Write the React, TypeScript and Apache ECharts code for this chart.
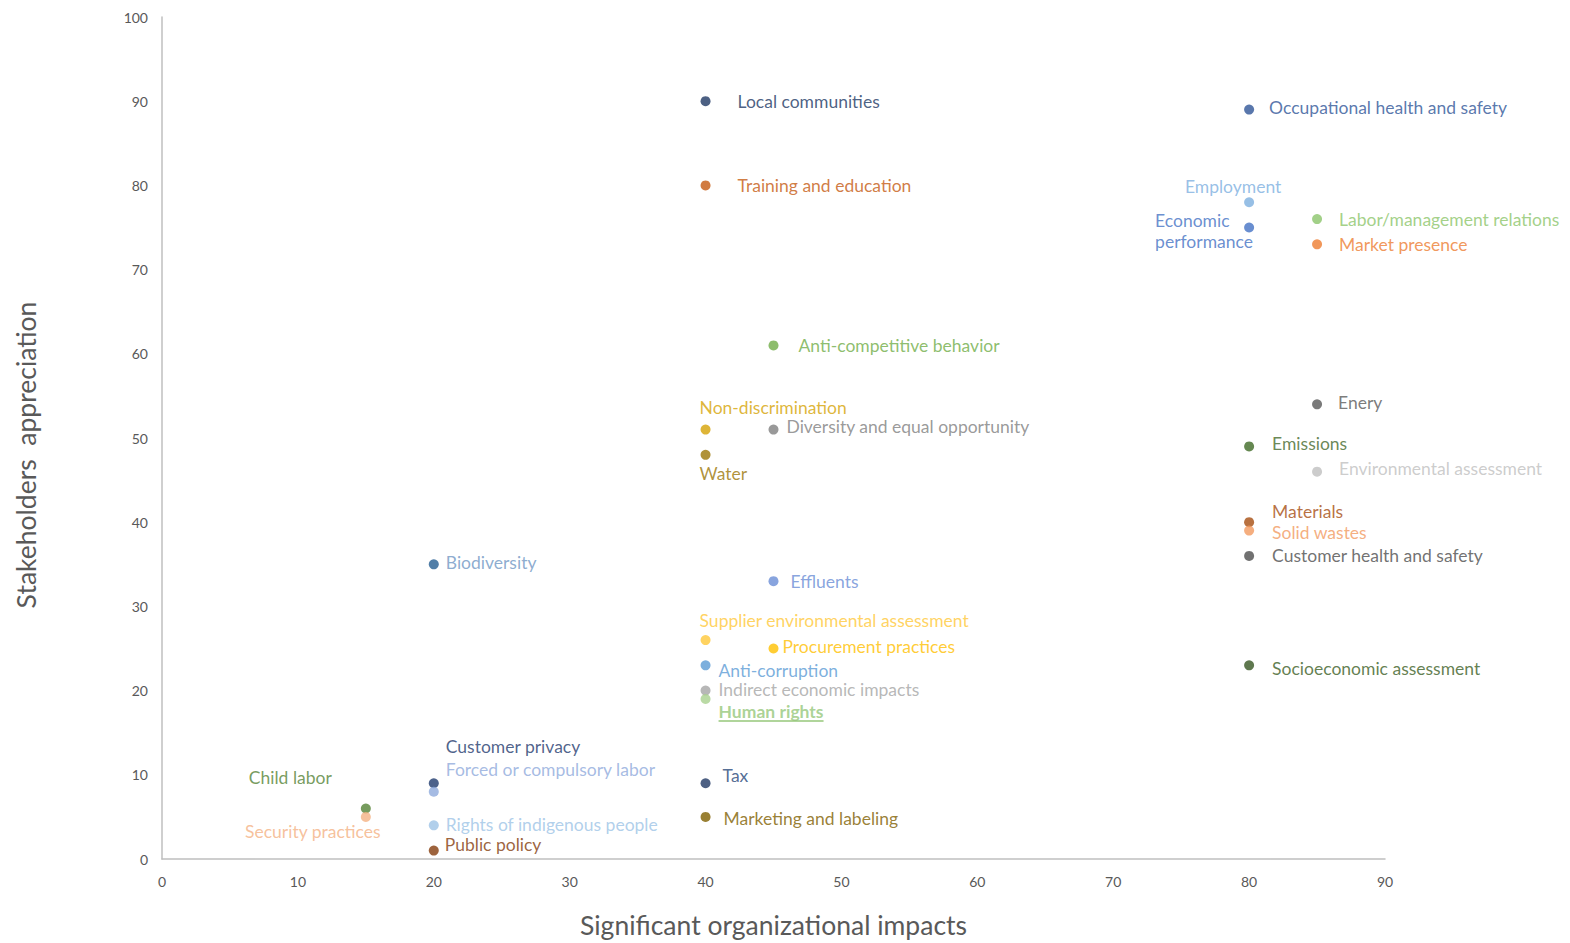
import React, { useEffect, useRef } from "react";
import * as echarts from "echarts";

const topics = [
  "Local communities", "Training and education", "Occupational health and safety", "Employment",
  "Economic\nperformance", "Labor/management relations", "Market presence", "Anti-competitive behavior",
  "Non-discrimination", "Diversity and equal opportunity", "Water", "Enery", "Emissions",
  "Environmental assessment", "Materials", "Solid wastes", "Customer health and safety", "Biodiversity",
  "Effluents", "Supplier environmental assessment", "Procurement practices", "Anti-corruption",
  "Indirect economic impacts", "Human rights", "Socioeconomic assessment", "Customer privacy",
  "Forced or compulsory labor", "Tax", "Child labor", "Security practices", "Rights of indigenous people",
  "Marketing and labeling", "Public policy",
];
const impacts = [40, 40, 80, 80, 80, 85, 85, 45, 40, 45, 40, 85, 80, 85, 80, 80, 80, 20, 45, 40, 45, 40, 40, 40, 80, 20, 20, 40, 15, 15, 20, 40, 20];
const appreciation = [90, 80, 89, 78, 75, 76, 73, 61, 51, 51, 48, 54, 49, 46, 40, 39, 36, 35, 33, 26, 25, 23, 20, 19, 23, 9, 8, 9, 6, 5, 4, 5, 1];
const xTicks = [0, 10, 20, 30, 40, 50, 60, 70, 80, 90];
const yTicks = [0, 10, 20, 30, 40, 50, 60, 70, 80, 90, 100];

// styles
const dotColors = [
  "#1F3864", "#C55A11", "#2F5597", "#7DAFDF", "#4472C4", "#8BC46A", "#ED7D31", "#70AD47",
  "#D6A305", "#808080", "#9C7708", "#595959", "#3F6A26", "#BFBFBF", "#A64D10", "#F29A5F",
  "#4D4D4D", "#255E91", "#6A8DD6", "#FFC839", "#FFC000", "#5B9BD5", "#A5A5A5", "#A9D18E",
  "#375623", "#1F3B6E", "#8FAADC", "#203864", "#548235", "#F4B183", "#9DC3E6", "#7F6000", "#843C0C",
];
const textColors = [
  "#203864", "#C55A11", "#2F5597", "#7DAFDF", "#4472C4", "#8CC56A", "#ED7D31", "#70AD47",
  "#D6A305", "#808080", "#9C7708", "#595959", "#43682B", "#BFBFBF", "#A64D10", "#F29A5F",
  "#4D4D4D", "#7097C4", "#6A8DD6", "#FFC839", "#FFC000", "#5B9BD5", "#A5A5A5", "#96C77A",
  "#3B5E24", "#1F3B6E", "#8FAADC", "#284779", "#548235", "#F4B183", "#9DC3E6", "#806000", "#843C0C",
];
// label layout: [dx, dy, align] relative to the point centre
const labelLayout: [number, number, string][] = [
  [32, 0, "left"], [32, 0, "left"], [20, -2, "left"], [-16, -16, "center"],
  [-94, 3, "left"], [22, 0, "left"], [22, 0, "left"], [25, 0, "left"],
  [-6, -22, "left"], [13, -3, "left"], [-6, 19, "left"], [21, -2, "left"], [23, -3, "left"],
  [22, -3, "left"], [23, -11, "left"], [23, 2, "left"], [23, 0, "left"], [12, -2, "left"],
  [17, 0, "left"], [-6, -20, "left"], [9, -2, "left"], [13, 5, "left"],
  [13, -1, "left"], [13, 12, "left"], [23, 3, "left"], [12, -37, "left"],
  [12, -22, "left"], [17, -8, "left"], [-117, -31, "left"], [-53, 15, "center"], [12, -1, "left"],
  [18, 2, "left"], [11, -6, "left"],
];

const FONT = "Lato, 'Open Sans', sans-serif";
const SYM = 10;

export default function App() {
  const ref = useRef<HTMLDivElement>(null);
  useEffect(() => {
    document.body.style.margin = "0";
    if (!ref.current) return;
    const chart = echarts.init(ref.current, undefined, { renderer: "svg" });
    const data = topics.map((name, i) => ({
      name,
      value: [impacts[i], appreciation[i]],
      itemStyle: { color: dotColors[i] },
      label: {
        show: true,
        formatter: name,
        position: [SYM / 2 + labelLayout[i][0], SYM / 2 + labelLayout[i][1]],
        align: labelLayout[i][2],
        verticalAlign: "middle",
        color: textColors[i],
        fontSize: 17.5,
        fontFamily: FONT,
        lineHeight: 21,
        fontWeight: name === "Human rights" ? "bold" : "normal",
      },
    }));
    const option: any = {
      animation: false,
      backgroundColor: "#ffffff",
      grid: { left: 162, right: 185, top: 17, bottom: 82, containLabel: false },
      xAxis: {
        type: "value",
        min: xTicks[0],
        max: xTicks[xTicks.length - 1],
        interval: 10,
        name: "Significant organizational impacts",
        nameLocation: "middle",
        nameGap: 52,
        nameTextStyle: { fontSize: 26.5, color: "#595959", fontFamily: FONT },
        axisLine: { show: true, lineStyle: { color: "#BFBFBF", width: 1.5 } },
        axisTick: { show: false },
        splitLine: { show: false },
        axisLabel: { color: "#595959", fontSize: 14, fontFamily: FONT, margin: 15 },
      },
      yAxis: {
        type: "value",
        min: yTicks[0],
        max: yTicks[yTicks.length - 1],
        interval: 10,
        name: "Stakeholders  appreciation",
        nameLocation: "middle",
        nameGap: 123,
        nameTextStyle: { fontSize: 26.5, color: "#595959", fontFamily: FONT, padding: [0, 34, 0, 0] },
        axisLine: { show: true, lineStyle: { color: "#BFBFBF", width: 1.5 } },
        axisTick: { show: false },
        splitLine: { show: false },
        axisLabel: { color: "#595959", fontSize: 14, fontFamily: FONT, margin: 14 },
      },
      series: [
        {
          type: "scatter",
          symbol: "circle",
          symbolSize: SYM,
          data,
          labelLayout: { hideOverlap: false },
        },
      ],
    };
    chart.setOption(option);
    // underline for "Human rights"
    const hi = topics.indexOf("Human rights");
    const p = chart.convertToPixel({ gridIndex: 0 }, [impacts[hi], appreciation[hi]]);
    if (p) {
      const x0 = p[0] + labelLayout[hi][0];
      const y0 = p[1] + labelLayout[hi][1] + 10;
      chart.setOption({
        graphic: [
          {
            type: "line",
            shape: { x1: x0, y1: y0, x2: x0 + 105, y2: y0 },
            style: { stroke: textColors[hi], lineWidth: 1.5 },
            silent: true,
          },
        ],
      });
    }
    return () => chart.dispose();
  }, []);
  return <div ref={ref} style={{ width: 1570, height: 943 }} />;
}
